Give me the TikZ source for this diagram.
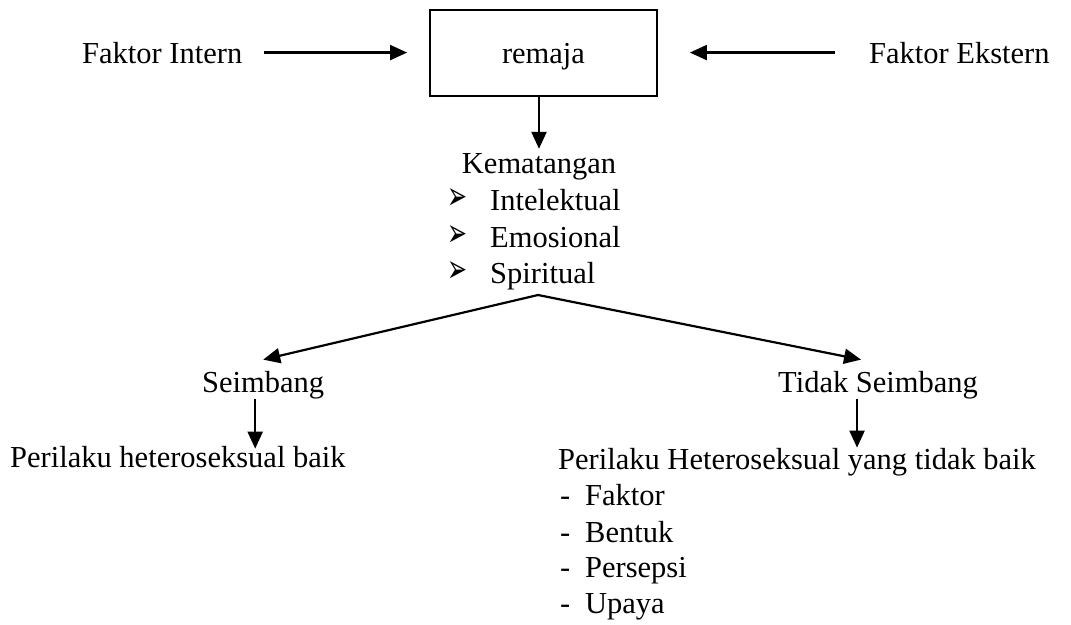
\documentclass[tikz,border=0pt]{standalone}
\usepackage{fontspec}
\usepackage{graphicx}
\setmainfont{Liberation Serif}
\newfontfamily\symfont{DejaVu Sans}
\usetikzlibrary{arrows.meta,calc}

% list markers
\newcommand{\pointer}{\makebox[43pt][l]{\raisebox{1pt}{\resizebox{20pt}{21pt}{\symfont ➢}}}}
\newcommand{\dashitem}{\makebox[25pt][l]{-}}

\begin{document}
\begin{tikzpicture}[
  x=1pt, y=1pt,
  font=\fontsize{30.5}{36}\selectfont,
  txt/.style={inner sep=0pt, anchor=base west},
  box/.style={draw, line width=1.8pt, minimum width=227pt, minimum height=86pt,
    text height=24pt, text depth=4pt, inner sep=0pt},
  arrow/.style={line width=2.2pt, -{Triangle[length=17pt,width=15pt]}},
  branch/.style={arrow, line cap=round}
]
\useasboundingbox (0,0) rectangle (1071,-624);

% Top row: influences on the teenager.
\node[txt] (intern) at (82,-63) {Faktor Intern};
\node[box] (remaja) at (543.5,-53) {remaja};
\node[txt] (ekstern) at (869,-63) {Faktor Ekstern};

\draw[arrow, shorten <=22pt, shorten >=22pt] (intern.east) -- (intern.east -| remaja.west);
\draw[arrow, shorten <=34pt, shorten >=32pt] (ekstern.west) -- (ekstern.west -| remaja.east);

% Maturity and its three aspects.
\node[txt, anchor=base] (kemat) at (539,-173) {Kematangan};
\node[txt] (intel) at (447,-210) {\pointer Intelektual};
\node[txt] (emosi) at (447,-247) {\pointer Emosional};
\node[txt] (spirit) at (447,-283) {\pointer Spiritual};

\draw[arrow] (kemat.north |- remaja.south) -- ([yshift=4pt]kemat.north);

% Split into balanced / unbalanced.
\coordinate (split) at (538,-295);
\node[txt] (seimbang) at (202,-392) {Seimbang};
\node[txt] (tidak) at (778,-392) {Tidak Seimbang};

\draw[branch] (split) -- ([yshift=11pt]seimbang.north);
\draw[branch] (split) -- ([xshift=-17pt,yshift=11pt]tidak.north);

% Resulting behaviour.
\node[txt] (good) at (10,-467) {Perilaku heteroseksual baik};
\node[txt] (bad) at (558,-469) {Perilaku Heteroseksual yang tidak baik};
\node[txt] (faktor) at (560,-505) {\dashitem Faktor};
\node[txt] (bentuk) at (560,-542) {\dashitem Bentuk};
\node[txt] (persepsi) at (560,-577) {\dashitem Persepsi};
\node[txt] (upaya) at (560,-613) {\dashitem Upaya};

\draw[arrow, shorten >=-3pt] ([xshift=-8pt]seimbang.south) -- ([xshift=-8pt]seimbang.south |- good.north);
\draw[arrow] ([xshift=-21pt]tidak.south) -- ([xshift=-21pt]tidak.south |- bad.north);

\end{tikzpicture}
\end{document}
